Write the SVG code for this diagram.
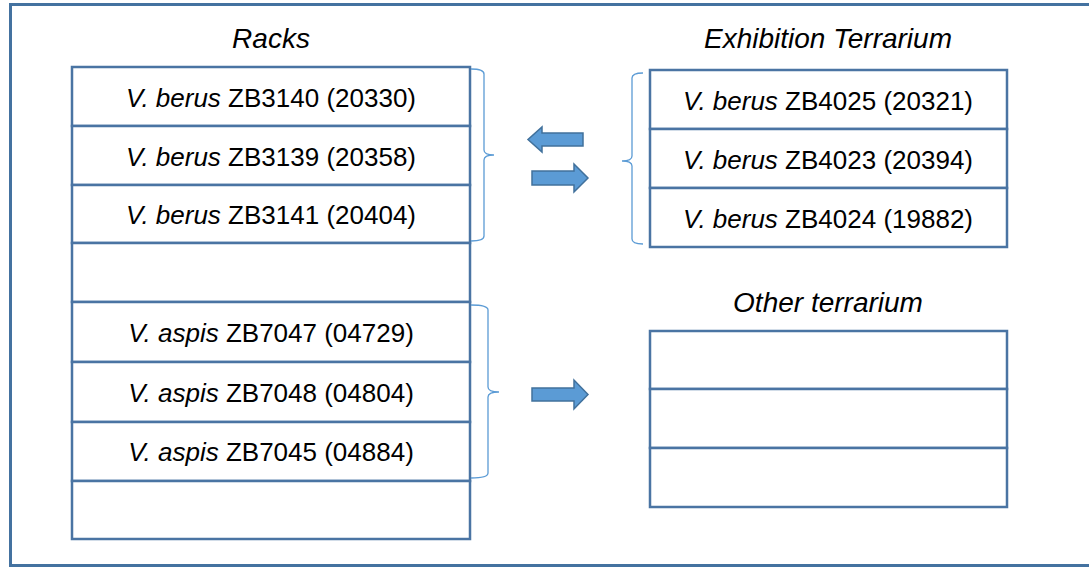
<svg xmlns="http://www.w3.org/2000/svg" width="1089" height="567" viewBox="0 0 1089 567">
<style>
.frame{fill:none;stroke:#4472a0;stroke-width:3}
.row{fill:#ffffff;stroke:#4a74a3;stroke-width:2.5}
.brace{fill:none;stroke:#5b9bd5;stroke-width:1.3}
.arrow{fill:#5b9bd5;stroke:#41719c;stroke-width:1.5;stroke-linejoin:miter}
.t{font-family:"Liberation Sans",Arial,sans-serif;font-size:26px;fill:#000;text-anchor:middle}
.title{font-family:"Liberation Sans",Arial,sans-serif;font-size:28px;font-style:italic;fill:#000;text-anchor:middle}
.i{font-style:italic}
</style>
<rect x="0" y="0" width="1089" height="567" fill="#ffffff"/>
<rect id="frame" class="frame" x="10.5" y="4.5" width="1090" height="561"/>

<g id="titles">
<text class="title" x="271" y="48">Racks</text>
<text class="title" x="828" y="48">Exhibition Terrarium</text>
<text class="title" x="828" y="312">Other terrarium</text>
</g>

<g id="racks">
<rect class="row" x="72" y="67" width="398" height="59"/>
<rect class="row" x="72" y="126" width="398" height="59"/>
<rect class="row" x="72" y="185" width="398" height="58"/>
<rect class="row" x="72" y="243" width="398" height="59"/>
<rect class="row" x="72" y="302" width="398" height="60"/>
<rect class="row" x="72" y="362" width="398" height="60"/>
<rect class="row" x="72" y="422" width="398" height="59"/>
<rect class="row" x="72" y="481" width="398" height="58"/>
<text class="t" x="271" y="107"><tspan class="i">V. berus</tspan> ZB3140 (20330)</text>
<text class="t" x="271" y="166"><tspan class="i">V. berus</tspan> ZB3139 (20358)</text>
<text class="t" x="271" y="224"><tspan class="i">V. berus</tspan> ZB3141 (20404)</text>
<text class="t" x="271" y="342"><tspan class="i">V. aspis</tspan> ZB7047 (04729)</text>
<text class="t" x="271" y="402"><tspan class="i">V. aspis</tspan> ZB7048 (04804)</text>
<text class="t" x="271" y="461"><tspan class="i">V. aspis</tspan> ZB7045 (04884)</text>
</g>

<g id="exhibition">
<rect class="row" x="650" y="70" width="357" height="59"/>
<rect class="row" x="650" y="129" width="357" height="59"/>
<rect class="row" x="650" y="188" width="357" height="59"/>
<text class="t" x="828" y="110"><tspan class="i">V. berus</tspan> ZB4025 (20321)</text>
<text class="t" x="828" y="169"><tspan class="i">V. berus</tspan> ZB4023 (20394)</text>
<text class="t" x="828" y="228"><tspan class="i">V. berus</tspan> ZB4024 (19882)</text>
</g>

<g id="other">
<rect class="row" x="650" y="331" width="357" height="58"/>
<rect class="row" x="650" y="389" width="357" height="59"/>
<rect class="row" x="650" y="448" width="357" height="59"/>
</g>

<g id="connectors">
<path class="brace" d="M471,69 Q484,69 484,74 L484,150 Q484,155 494,155 Q484,155 484,160 L484,236 Q484,241 471,241"/>
<path class="brace" d="M643,73 Q632,73 632,78 L632,156 Q632,161 622,161 Q632,161 632,166 L632,239 Q632,244 643,244"/>
<path class="brace" d="M471,305 Q488,305 488,310 L488,387 Q488,392 499,392 Q488,392 488,397 L488,473 Q488,478 471,478"/>
<path class="arrow" d="M583,133 L542,133 L542,127 L528,139.5 L542,152 L542,146 L583,146 Z"/>
<path class="arrow" d="M532,171 L574,171 L574,164 L588,178 L574,192 L574,185 L532,185 Z"/>
<path class="arrow" d="M532,388 L574,388 L574,380 L588,394.5 L574,409 L574,401 L532,401 Z"/>
</g>
</svg>
